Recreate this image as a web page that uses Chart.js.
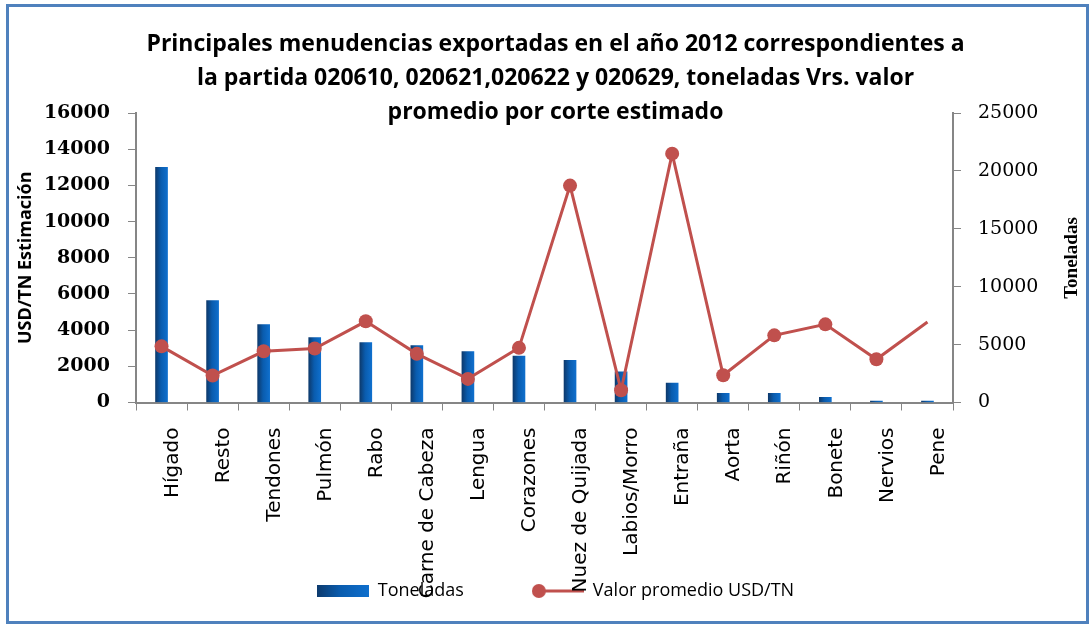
<!DOCTYPE html>
<html>
<head>
<meta charset="utf-8">
<script src="https://cdn.jsdelivr.net/npm/chart.js@4.4.1/dist/chart.umd.min.js"></script>
<style>
    body { margin: 0; background: #fff; }
    #wrap { position: relative; width: 1089px; height: 624px; }
    #frame {
        position: absolute; left: 6px; top: 4px; width: 1083px; height: 620px;
        box-sizing: border-box; border: 3px solid #4f81bd; pointer-events: none;
    }
</style>
</head>
<body>
<div id="wrap">
    <canvas id="myChart" width="1089" height="624"></canvas>
    <div id="frame"></div>
</div>
<script>
const categories = ['Hígado', 'Resto', 'Tendones', 'Pulmón', 'Rabo', 'Carne de Cabeza', 'Lengua', 'Corazones',
    'Nuez de Quijada', 'Labios/Morro', 'Entraña', 'Aorta', 'Riñón', 'Bonete', 'Nervios', 'Pene'];

// barras (eje izquierdo)
const toneladas = [13000, 5630, 4300, 3590, 3310, 3150, 2810, 2560, 2330, 1690, 1070, 510, 510, 290, 80, 80];

// linea (eje derecho)
const valorPromedio = [4850, 2330, 4420, 4660, 7010, 4200, 2040, 4720, 18730, 1060, 21490, 2350, 5800, 6750, 3730, 6950];

const leftTicks = { min: 0, max: 16000, step: 2000 };
const rightTicks = { min: 0, max: 25000, step: 5000 };

const titleLines = [
    'Principales menudencias exportadas en el año 2012 correspondientes a',
    'la partida 020610, 020621,020622 y 020629, toneladas Vrs. valor',
    'promedio por corte estimado'
];

const red = '#c0504d';
const axisGrey = '#868686';

function barGradient(ctx, x0, x1) {
    const g = ctx.createLinearGradient(x0, 0, x1, 0);
    g.addColorStop(0, '#0d3a6d');
    g.addColorStop(0.45, '#0a5cae');
    g.addColorStop(1, '#0f6fcd');
    return g;
}

// legend swatches
const barSwatch = document.createElement('canvas');
barSwatch.width = 52;
barSwatch.height = 12;
(function () {
    const c = barSwatch.getContext('2d');
    c.fillStyle = barGradient(c, 0, 52);
    c.fillRect(0, 0, 52, 12);
})();

const lineSwatch = document.createElement('canvas');
lineSwatch.width = 52;
lineSwatch.height = 16;
(function () {
    const c = lineSwatch.getContext('2d');
    c.strokeStyle = red;
    c.lineWidth = 3;
    c.beginPath();
    c.moveTo(7, 8);
    c.lineTo(52, 8);
    c.stroke();
    c.fillStyle = red;
    c.beginPath();
    c.arc(7, 8, 7, 0, Math.PI * 2);
    c.fill();
})();

// the long category labels run into the legend area, so let the x axis clip to the canvas bottom
const longLabelsPlugin = {
    id: 'longLabels',
    afterLayout: (chart) => {
        const x = chart.scales.x;
        x.bottom = chart.height;
        x.height = x.bottom - x.top;
    }
};

const rightTitlePlugin = {
    id: 'rightTitle',
    afterDraw: (chart) => {
        const { ctx } = chart;
        ctx.save();
        ctx.translate(1072, 258);
        ctx.rotate(-Math.PI / 2);
        ctx.font = 'bold 19px "Liberation Serif"';
        ctx.fillStyle = '#000';
        ctx.textAlign = 'center';
        ctx.textBaseline = 'middle';
        ctx.fillText('Toneladas', 0, 0);
        ctx.restore();
    }
};

const ctx = document.getElementById('myChart');

new Chart(ctx, {
    type: 'bar',
    data: {
        labels: categories,
        datasets: [{
            type: 'line',
            label: 'Valor promedio USD/TN',
            data: valorPromedio,
            yAxisID: 'y1',
            borderColor: red,
            backgroundColor: red,
            borderWidth: 3,
            pointRadius: valorPromedio.map((v, i) => i === valorPromedio.length - 1 ? 0 : 7),
            pointBackgroundColor: red,
            pointBorderWidth: 0,
            tension: 0
        }, {
            type: 'bar',
            label: 'Toneladas',
            data: toneladas,
            yAxisID: 'y',
            barThickness: 12,
            backgroundColor: (c) => {
                const chart = c.chart;
                if (!chart.chartArea || c.dataIndex === undefined) {
                    return '#0a5cae';
                }
                const cx = chart.scales.x.getPixelForValue(c.dataIndex);
                return barGradient(chart.ctx, cx - 6, cx + 6);
            }
        }]
    },
    options: {
        responsive: false,
        animation: false,
        layout: {
            padding: { top: 0, left: 9, right: -13, bottom: 14 }
        },
        plugins: {
            title: {
                display: true,
                text: titleLines,
                color: '#000',
                font: { family: 'Open Sans', size: 23, weight: 'bold', lineHeight: '34px' },
                padding: { top: 27, bottom: -16 }
            },
            legend: {
                position: 'bottom',
                labels: {
                    usePointStyle: true,
                    pointStyleWidth: 52,
                    padding: 68,
                    color: '#000',
                    font: { family: 'Open Sans', size: 18 },
                    generateLabels: () => [
                        { text: 'Toneladas', pointStyle: barSwatch, fillStyle: '#0a5cae', strokeStyle: 'transparent', lineWidth: 0, datasetIndex: 1 },
                        { text: 'Valor promedio USD/TN', pointStyle: lineSwatch, fillStyle: red, strokeStyle: 'transparent', lineWidth: 0, datasetIndex: 0 }
                    ]
                }
            },
            tooltip: { enabled: false }
        },
        scales: {
            x: {
                offset: true,
                grid: { display: true, drawOnChartArea: false, drawTicks: true, tickLength: 8, color: axisGrey, offset: true },
                border: { display: true, color: axisGrey, width: 2 },
                ticks: {
                    autoSkip: false,
                    maxRotation: 90,
                    minRotation: 90,
                    padding: 17,
                    labelOffset: 11,
                    color: '#000',
                    font: { family: 'DejaVu Sans', size: 20 }
                },
                afterFit: (scale) => { scale.height = 111.5; }
            },
            y: {
                position: 'left',
                min: leftTicks.min,
                max: leftTicks.max,
                grid: { drawOnChartArea: false, tickLength: 8, color: axisGrey },
                border: { color: axisGrey, width: 2 },
                ticks: {
                    stepSize: leftTicks.step,
                    padding: 18,
                    color: '#000',
                    font: { family: 'DejaVu Serif', size: 19, weight: 'bold' },
                    callback: (v) => String(v)
                },
                title: {
                    display: true,
                    text: 'USD/TN Estimación',
                    color: '#000',
                    font: { family: 'Open Sans', size: 18, weight: 'bold', lineHeight: 1.2 },
                    padding: { top: 6, bottom: 0 }
                },
                afterFit: (scale) => { scale.width = 127; }
            },
            y1: {
                position: 'right',
                min: rightTicks.min,
                max: rightTicks.max,
                grid: { drawOnChartArea: false, tickLength: 8, color: axisGrey },
                border: { color: axisGrey, width: 2 },
                ticks: {
                    stepSize: rightTicks.step,
                    padding: 17,
                    color: '#000',
                    font: { family: 'DejaVu Serif', size: 19 },
                    callback: (v) => String(v)
                },
                afterFit: (scale) => { scale.width = 149; }
            }
        }
    },
    plugins: [longLabelsPlugin, rightTitlePlugin]
});
</script>
</body>
</html>
